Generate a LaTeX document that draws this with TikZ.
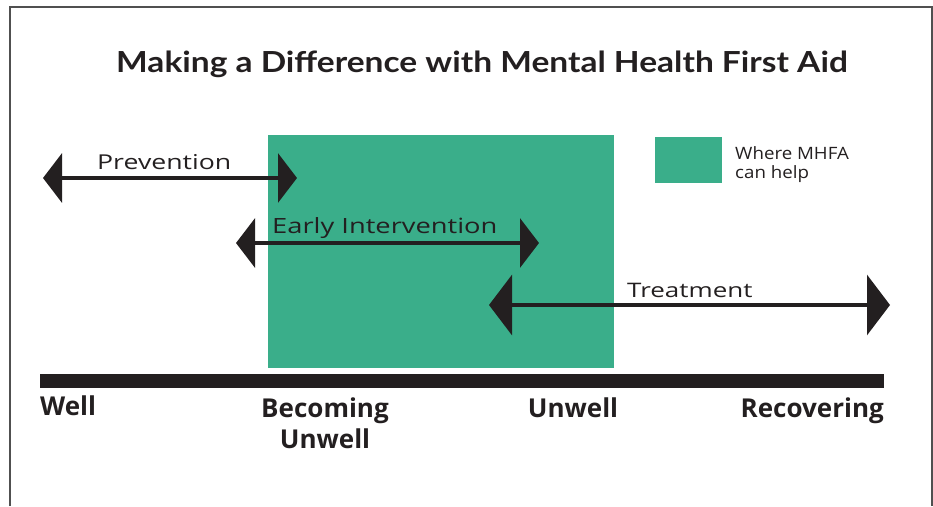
\documentclass[tikz,border=0pt]{standalone}
\usepackage{fontspec}
\setmainfont{Open Sans}
\newfontfamily\titlefont[FakeStretch=1.155]{Lato}
\newfontfamily\spanfont[FakeStretch=1.3]{Open Sans}
\newfontfamily\keyfont[FakeStretch=1.1]{Open Sans}
\usetikzlibrary{arrows.meta}
\definecolor{mhfa}{RGB}{58,174,138}
\definecolor{ink}{RGB}{35,31,32}
\definecolor{frame}{RGB}{80,80,80}
\begin{document}
\begin{tikzpicture}[x=1pt,y=-1pt,
  txt/.style={inner sep=0pt, text=ink},
  spantext/.style={txt, font=\spanfont\fontsize{20}{24}\selectfont},
  stage/.style={txt, font=\fontsize{26}{30}\selectfont\bfseries},
  span/.style={line width=3.5pt, draw=ink, {Triangle[length=19pt,width=49pt]}-{Triangle[length=19pt,width=49pt]}},
  bigspan/.style={line width=3.5pt, draw=ink, {Triangle[length=23pt,width=60pt]}-{Triangle[length=23pt,width=60pt]}}]
\useasboundingbox (0,0) rectangle (933,506);
% open frame
\draw[frame, line width=1.4pt] (10,506) -- (10,7) -- (932,7) -- (932,506);

% title
\node[txt, anchor=base, font=\titlefont\fontsize{29}{34}\selectfont\bfseries] (title) at (482,72)
  {Making a Difference with Mental Health First Aid};

% shaded area and legend
\fill[mhfa] (268,135) rectangle (614,368);
\node[fill=mhfa, minimum width=67pt, minimum height=46pt, inner sep=0pt, anchor=north west] (key) at (655,137) {};
\node[txt, anchor=base west, font=\keyfont\fontsize{17}{19}\selectfont] (keytext1) at (735,159) {Where MHFA};
\node[txt, anchor=base west, font=\keyfont\fontsize{17}{19}\selectfont] (keytext2) at (735,178) {can help};

% spans
\coordinate (pL) at (43,178);  \coordinate (pR) at (297,178);
\coordinate (eL) at (236,243); \coordinate (eR) at (539,243);
\coordinate (tL) at (489,305); \coordinate (tR) at (890,305);
\draw[span] (pL) -- (pR);
\draw[span] (eL) -- (eR);
\draw[bigspan] (tL) -- (tR);
\node[spantext, anchor=base west, font=\spanfont\fontsize{20.5}{24}\selectfont] (prev) at (97,169) {Prevention};
\node[spantext, anchor=base west, font=\spanfont\fontsize{21}{24}\selectfont] (early) at (272,233) {Early Intervention};
\node[spantext, anchor=base west] (treat) at (627,297) {Treatment};

% timeline
\fill[ink] (40,374) rectangle (884,388);
\node[stage, anchor=base west] (well) at (40,415) {Well};
\node[stage, anchor=base] (becoming) at (325,417) {Becoming};
\node[stage, anchor=base] (becoming2) at (325,448) {Unwell};
\node[stage, anchor=base] (unwell) at (573,417) {Unwell};
\node[stage, anchor=base east] (recovering) at (884,417) {Recovering};
\end{tikzpicture}
\end{document}
